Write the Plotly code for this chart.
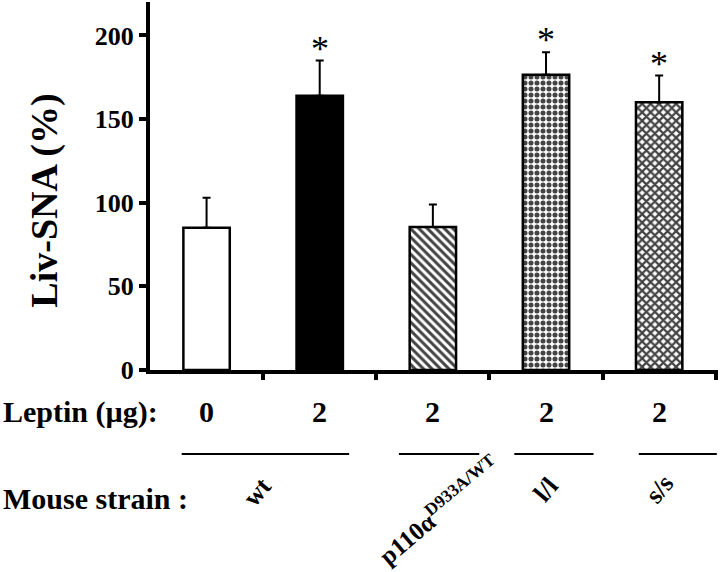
import plotly.graph_objects as go

groups = ["wt 0", "wt 2", "p110a 2", "l/l 2", "s/s 2"]
values = [85, 164, 85.5, 176.5, 160]
errors = [18, 21, 13.5, 13.5, 16]
significant = [False, True, False, True, True]
leptin_doses = ["0", "2", "2", "2", "2"]
y_ticks = [0, 50, 100, 150, 200]
strain_labels = ["wt", "p110α<sup>D933A/WT</sup>", "l/l", "s/s"]
strain_pos = [0.45, 2.05, 3.0, 4.0]
strain_ypos = [-0.33, -0.38, -0.325, -0.325]
strain_sizes = [26, 25, 26, 26]
strain_angles = [-50, -40, -50, -50]
underline_spans = [(-0.22, 1.26), (1.70, 2.41), (2.72, 3.42), (3.82, 4.51)]

FONT = "Liberation Serif, Times New Roman, serif"
xs = list(range(len(groups)))

fig = go.Figure()
fig.add_trace(go.Bar(
    x=xs, y=values, width=0.41,
    marker=dict(
        color=["white", "black", "white", "white", "white"],
        line=dict(color="black", width=2.5),
        pattern=dict(shape=["", "", "\\", ".", "x"], fgcolor="black", fgopacity=1,
                     size=[8, 8, 6, 6, 6], solidity=[0.3, 0.3, 0.5, 0.55, 0.6]),
    ),
    error_y=dict(type="data", symmetric=False, array=errors,
                 arrayminus=[0] * len(errors), color="black", thickness=2, width=4),
    showlegend=False,
))

annotations = []
for i, (v, e, s) in enumerate(zip(values, errors, significant)):
    if s:
        annotations.append(dict(x=i, y=v + e, xref="x", yref="y", text="*",
                                showarrow=False, xanchor="center", yanchor="bottom", yshift=-10,
                                font=dict(family=FONT, size=36, color="black")))
for i, d in enumerate(leptin_doses):
    annotations.append(dict(x=i, y=-0.114, xref="x", yref="paper", text="<b>%s</b>" % d,
                            showarrow=False, xanchor="center", yanchor="middle",
                            font=dict(family=FONT, size=30, color="black")))
annotations.append(dict(x=-0.262, y=-0.114, xref="paper", yref="paper", text="<b>Leptin (µg):</b>",
                        showarrow=False, xanchor="left", yanchor="middle",
                        font=dict(family=FONT, size=30, color="black")))
annotations.append(dict(x=-0.262, y=-0.348, xref="paper", yref="paper", text="<b>Mouse strain :</b>",
                        showarrow=False, xanchor="left", yanchor="middle",
                        font=dict(family=FONT, size=30, color="black")))
for lab, px, py, sz, ang in zip(strain_labels, strain_pos, strain_ypos, strain_sizes, strain_angles):
    annotations.append(dict(x=px, y=py, xref="x", yref="paper", text="<b>%s</b>" % lab,
                            showarrow=False, textangle=ang, xanchor="center", yanchor="middle",
                            font=dict(family=FONT, size=sz, color="black")))
annotations.append(dict(x=-0.185, y=0.46, xref="paper", yref="paper", text="<b>Liv-SNA (%)</b>",
                        showarrow=False, textangle=-90, xanchor="center", yanchor="middle",
                        font=dict(family=FONT, size=38, color="black")))

shapes = []
for a, b in underline_spans:
    shapes.append(dict(type="line", xref="x", yref="paper", x0=a, x1=b, y0=-0.228, y1=-0.228,
                       line=dict(color="black", width=2)))

fig.update_layout(
    width=720, height=572,
    margin=dict(l=150, r=2, t=2, b=202, autoexpand=False),
    plot_bgcolor="white", paper_bgcolor="white",
    font=dict(family=FONT, color="black"),
    annotations=annotations, shapes=shapes,
    xaxis=dict(range=[-0.5, 4.52], tickmode="array", tickvals=[0.5, 1.5, 2.5, 3.5, 4.5],
               showticklabels=False, ticks="outside", ticklen=6, tickwidth=4, tickcolor="black",
               showline=True, linecolor="black", linewidth=4, showgrid=False, zeroline=False,
               automargin=False),
    yaxis=dict(range=[0, 220], tickmode="array", tickvals=y_ticks,
               ticks="outside", ticklen=7, tickwidth=4, tickcolor="black",
               tickfont=dict(family=FONT, size=26, color="black", weight="bold"),
               showline=True, linecolor="black", linewidth=4, showgrid=False, zeroline=False,
               automargin=False),
)

fig.write_html("out.html", config={"displayModeBar": False},
               post_script="document.body.style.margin='0';")
